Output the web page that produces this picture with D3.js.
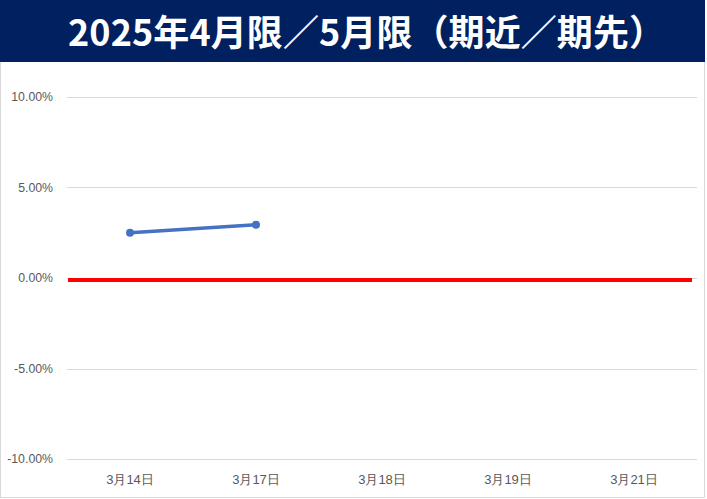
<!DOCTYPE html>
<html><head><meta charset="utf-8">
<script src="https://cdn.jsdelivr.net/npm/d3@7"></script>
<style>
html,body{margin:0;padding:0;background:#fff;}
svg{display:block;font-family:"Noto Sans CJK JP","Noto Sans",sans-serif;}
</style></head>
<body>
<svg id="chart" width="707" height="499"></svg>
<script>
const title = "2025年4月限／5月限（期近／期先）";
const categories = ["3月14日","3月17日","3月18日","3月19日","3月21日"];
const spreadValues = [0.0250, 0.0294, null, null, null];
const zeroLine = [0, 0];
const yTicks = [-0.10, -0.05, 0, 0.05, 0.10];

const W = 707, H = 499;
const svg = d3.select("#chart");
const m = {left: 67, right: 10, top: 97, bottom: 40};
const plotR = 697, plotB = 459;

// outer border
svg.append("rect").attr("x",0.5).attr("y",0.5).attr("width",W-3).attr("height",H-2)
  .attr("fill","#fff").attr("stroke","#d9d9d9");
// title bar
svg.append("rect").attr("x",0).attr("y",0).attr("width",W-2).attr("height",62).attr("fill","#002060");
const t = svg.append("text").attr("x",68).attr("y",46)
  .attr("fill","#fff").attr("font-size",36).attr("font-weight","bold").text(title);
const targetW = 597;
const cur = t.node().getComputedTextLength();
const n = Array.from(title).length;
t.attr("letter-spacing", (targetW - cur)/(n-1));

const x = d3.scaleBand().domain(categories).range([m.left, plotR]);
const y = d3.scaleLinear().domain([-0.10, 0.10]).range([plotB, m.top]);

// gridlines
svg.append("g").selectAll("line").data(yTicks).join("line")
  .attr("x1",m.left).attr("x2",plotR)
  .attr("y1",d=>Math.round(y(d))+0.5).attr("y2",d=>Math.round(y(d))+0.5)
  .attr("stroke","#d9d9d9").attr("stroke-width",1);

// y axis labels
const loc = d3.formatLocale({decimal:".",thousands:",",grouping:[3],currency:["",""],minus:"-",percent:"%"});
const yAxis = d3.axisLeft(y).tickValues(yTicks).tickSize(0).tickPadding(14)
  .tickFormat(loc.format(".2%"));
const gy = svg.append("g").attr("transform",`translate(${m.left},0)`).call(yAxis);
gy.select(".domain").remove();
gy.selectAll("text").attr("fill","#595959").attr("font-size",12.3)
  .attr("font-family","Liberation Sans, Arial, sans-serif");

// x axis labels
const xAxis = d3.axisBottom(x).tickSize(0).tickPadding(16);
const gx = svg.append("g").attr("transform",`translate(0,${plotB})`).call(xAxis);
gx.select(".domain").remove();
gx.selectAll("text").attr("fill","#595959").attr("font-size",13);

// red zero line across plot
const xr = d3.scaleLinear().domain([0,1]).range([m.left+1, plotR-5]);
svg.append("path").datum(zeroLine)
  .attr("d", d3.line().x((d,i)=>xr(i)).y(d=>y(d)+2))
  .attr("stroke","#ff0000").attr("stroke-width",4).attr("fill","none");

// blue series
const pts = categories.map((c,i)=>({c, v: spreadValues[i]})).filter(d=>d.v!==null);
svg.append("path").datum(pts)
  .attr("d", d3.line().x(d=>x(d.c)+x.bandwidth()/2).y(d=>y(d.v)))
  .attr("stroke","#4472c4").attr("stroke-width",3.5).attr("fill","none").attr("stroke-linecap","round");
svg.append("g").selectAll("circle").data(pts).join("circle")
  .attr("cx",d=>x(d.c)+x.bandwidth()/2).attr("cy",d=>y(d.v)).attr("r",4)
  .attr("fill","#4472c4");
</script>
</body></html>
